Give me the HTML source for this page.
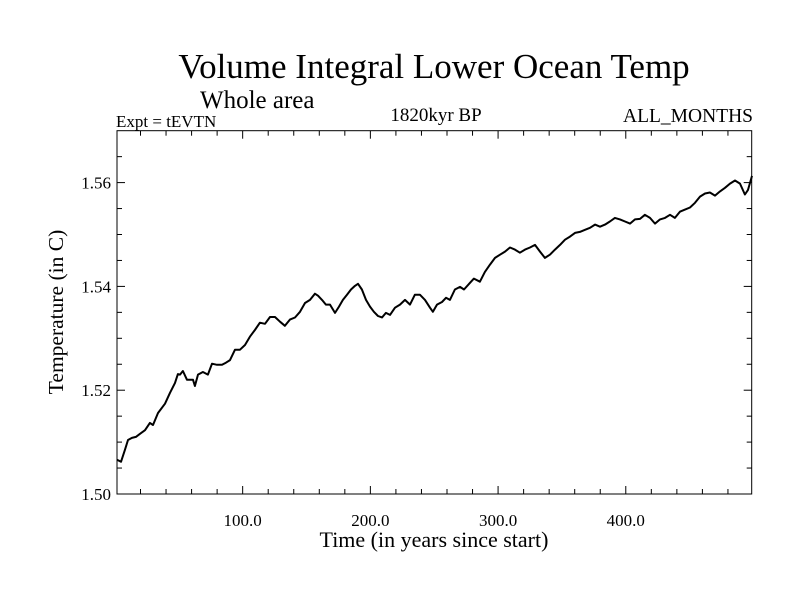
<!DOCTYPE html>
<html><head><meta charset="utf-8"><style>
html,body{margin:0;padding:0;background:#fff;}
svg{display:block;font-family:"Liberation Serif",serif;}
</style></head><body>
<svg id="chart" width="800" height="600" xmlns="http://www.w3.org/2000/svg">
<text x="434" y="78" font-size="35" text-anchor="middle">Volume Integral Lower Ocean Temp</text>
<text x="200" y="108" font-size="25">Whole area</text>
<text x="116" y="127" font-size="17">Expt = tEVTN</text>
<text x="436" y="121" font-size="19" text-anchor="middle">1820kyr BP</text>
<text x="753" y="122" font-size="19.5" text-anchor="end">ALL_MONTHS</text>
<text x="434" y="547" font-size="22" text-anchor="middle">Time (in years since start)</text>
<text x="0" y="0" font-size="21.5" text-anchor="middle" transform="translate(63,312) rotate(-90)">Temperature (in C)</text>
<g id="axes"></g>
<path id="series" fill="none" stroke="#000" stroke-width="2" stroke-linejoin="round"/>
<rect x="117" y="130.7" width="634.7" height="363.3" fill="none" stroke="#000" stroke-width="1"/>
</svg>
<script>
const years = [1.6,4.7,7.8,10.2,13.3,16.4,19.6,23.5,27.4,29.8,33.7,39.2,43.1,47,49.3,50.9,53.2,56.4,58.7,61.1,62.6,65,68.9,72.8,76,79.9,83.8,86.9,90.1,94,97.9,101.8,105.7,109.6,113.5,117.5,121.4,125.3,129.2,133.1,137,141,144.9,148.8,152.7,156.6,159,162.1,165.2,168.4,172.3,175.4,178.5,181.7,184.8,187.9,190.3,193.4,196.6,199.7,202.8,206,209.1,212.2,215.4,219.3,223.2,227.1,231,234.9,238.8,242.8,246.7,249,252.2,256.1,259.2,262.3,266.2,270.2,273.3,278,281.1,285.8,289.7,293.7,297.6,301.5,305.4,309.3,313.2,317.1,321.1,325,328.9,332.8,336.7,340.6,344.6,348.5,352.4,356.3,360.2,364.1,368.1,372,375.9,379.8,383.7,387.6,391.5,395.5,399.4,403.3,407.2,411.1,415,419,422.9,426.8,430.7,434.6,438.5,442.4,446.4,450.3,454.2,458.1,462,465.9,469.9,473.8,477.7,481.6,485.5,489.4,493.3,495.7,498.8];
const temps = [1.5066,1.5062,1.5085,1.5104,1.5108,1.5110,1.5116,1.5123,1.5137,1.5133,1.5156,1.5174,1.5195,1.5214,1.5231,1.5230,1.5237,1.5220,1.5220,1.5220,1.5208,1.5230,1.5235,1.5230,1.5251,1.5249,1.5249,1.5253,1.5258,1.5278,1.5278,1.5287,1.5303,1.5316,1.5330,1.5328,1.5341,1.5341,1.5332,1.5324,1.5336,1.5340,1.5351,1.5368,1.5374,1.5386,1.5382,1.5374,1.5365,1.5365,1.5349,1.5361,1.5374,1.5384,1.5394,1.5401,1.5405,1.5394,1.5374,1.5361,1.5351,1.5343,1.5340,1.5349,1.5345,1.5359,1.5365,1.5374,1.5365,1.5384,1.5384,1.5374,1.5359,1.5351,1.5365,1.5370,1.5378,1.5374,1.5394,1.5399,1.5394,1.5407,1.5415,1.5409,1.5428,1.5442,1.5455,1.5461,1.5467,1.5475,1.5471,1.5465,1.5471,1.5475,1.5480,1.5467,1.5455,1.5461,1.5471,1.5480,1.5490,1.5496,1.5503,1.5505,1.5509,1.5513,1.5519,1.5515,1.5519,1.5525,1.5532,1.5529,1.5525,1.5521,1.5529,1.5530,1.5538,1.5532,1.5521,1.5529,1.5532,1.5538,1.5532,1.5544,1.5548,1.5552,1.5561,1.5573,1.5579,1.5581,1.5575,1.5583,1.5590,1.5598,1.5604,1.5598,1.5577,1.5586,1.5613];
const xTickLabels = ["100.0","200.0","300.0","400.0"];
const xTickValues = [100,200,300,400];
const yTickLabels = ["1.50","1.52","1.54","1.56"];
const yTickValues = [1.50,1.52,1.54,1.56];

const L=117,R=751.7,T=130.7,B=494, xMin=1.6,xMax=498.6,yMin=1.50,yMax=1.57;
const sx=v=>L+(v-xMin)/(xMax-xMin)*(R-L);
const sy=v=>B-(v-yMin)/(yMax-yMin)*(B-T);
const NS="http://www.w3.org/2000/svg";
const axes=document.getElementById('axes');
function line(x1,y1,x2,y2,name){
  const l=document.createElementNS(NS,'line');
  l.setAttribute('x1',x1);l.setAttribute('y1',y1);l.setAttribute('x2',x2);l.setAttribute('y2',y2);
  l.setAttribute('stroke','#000');l.setAttribute('stroke-width','1');
  
  
  axes.appendChild(l);
}
function text(x,y,s,anchor,name){
  const t=document.createElementNS(NS,'text');
  t.setAttribute('x',x);t.setAttribute('y',y);t.setAttribute('font-size','17');t.setAttribute('text-anchor',anchor);
  t.textContent=s;
  
  
  axes.appendChild(t);
}
for(let v=20;v<xMax;v+=20){
  const x=sx(v), major=(v%100===0), len=major?8:5;
  line(x,B,x,B-len,'x-tick');
  line(x,T,x,T+len,'x-tick-top');
}
for(let i=1;i<14;i++){
  const v=yMin+i*0.005, y=sy(v), major=(i%4===0), len=major?8:5;
  line(L,y,L+len,y,'y-tick');
  line(R,y,R-len,y,'y-tick-right');
}
xTickValues.forEach((v,i)=>text(sx(v),526,xTickLabels[i],'middle','x-tick-label'));
yTickValues.forEach((v,i)=>text(L-6,sy(v)+6,yTickLabels[i],'end','y-tick-label'));
let d='';
years.forEach((yr,i)=>{d+=(i?'L':'M')+sx(yr).toFixed(1)+','+sy(temps[i]).toFixed(1);});
document.getElementById('series').setAttribute('d',d);
</script>
</body></html>
